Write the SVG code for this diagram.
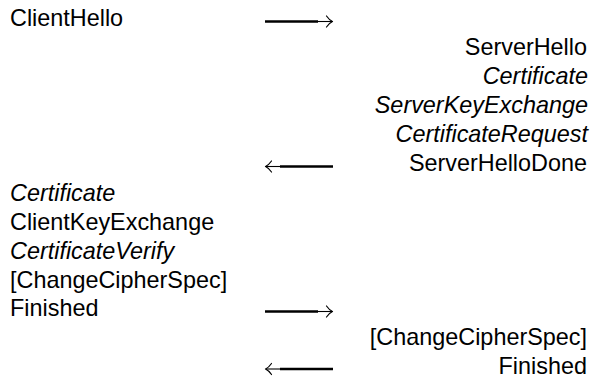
<svg xmlns="http://www.w3.org/2000/svg" xmlns:xlink="http://www.w3.org/1999/xlink" width="592" height="384" viewBox="0 0 592 384">
  <style>
    text { font-family: "Liberation Sans", Arial, Helvetica, sans-serif; font-size: 23.4px; fill: #000; }
    .client { text-anchor: start; }
    .server { text-anchor: end; }
    .opt { font-style: italic; }
    .shaft { stroke: #000; stroke-width: 2.6; fill: none; }
    .tail { stroke: #000; stroke-width: 1.1; fill: none; }
    .head { stroke: #000; stroke-width: 1.2; fill: none; stroke-linecap: round; stroke-linejoin: round; }
  </style>
  <defs>
    <!-- long right arrow: heavy rule, light tail and open chevron head; origin at the left end -->
    <g id="arrow-right">
      <line class="shaft" x1="0" y1="0" x2="53" y2="0"/>
      <line class="tail" x1="52" y1="0" x2="67" y2="0"/>
      <path class="head" d="M61.5,-5.5 Q64.5,-1.2 67.5,0 Q64.5,1.2 61.5,5.5"/>
    </g>
    <!-- long left arrow: mirror image of the right one -->
    <g id="arrow-left">
      <use xlink:href="#arrow-right" transform="translate(68,0) scale(-1,1)"/>
    </g>
  </defs>

  <!-- client side messages -->
  <g id="client-hello"><text class="client" x="10" y="26">ClientHello</text></g>
  <g id="client-certificate"><text class="client opt" x="10" y="200.5">Certificate</text></g>
  <g id="client-key-exchange"><text class="client" x="10" y="229.5">ClientKeyExchange</text></g>
  <g id="certificate-verify"><text class="client opt" x="10" y="258.5">CertificateVerify</text></g>
  <g id="client-change-cipher-spec"><text class="client" x="10" y="287.5">[ChangeCipherSpec]</text></g>
  <g id="client-finished"><text class="client" x="10" y="316">Finished</text></g>

  <!-- server side messages -->
  <g id="server-hello"><text class="server" x="587" y="55">ServerHello</text></g>
  <g id="server-certificate"><text class="server opt" x="588" y="84">Certificate</text></g>
  <g id="server-key-exchange"><text class="server opt" x="588" y="113">ServerKeyExchange</text></g>
  <g id="certificate-request"><text class="server opt" x="588" y="142">CertificateRequest</text></g>
  <g id="server-hello-done"><text class="server" x="587" y="171">ServerHelloDone</text></g>
  <g id="server-change-cipher-spec"><text class="server" x="587" y="345">[ChangeCipherSpec]</text></g>
  <g id="server-finished"><text class="server" x="587" y="373.5">Finished</text></g>

  <!-- message flow arrows -->
  <g id="connectors">
    <use xlink:href="#arrow-right" transform="translate(265,21.5)"/>
    <use xlink:href="#arrow-left" transform="translate(265,166.5)"/>
    <use xlink:href="#arrow-right" transform="translate(265,311.5)"/>
    <use xlink:href="#arrow-left" transform="translate(265,369)"/>
  </g>
</svg>
